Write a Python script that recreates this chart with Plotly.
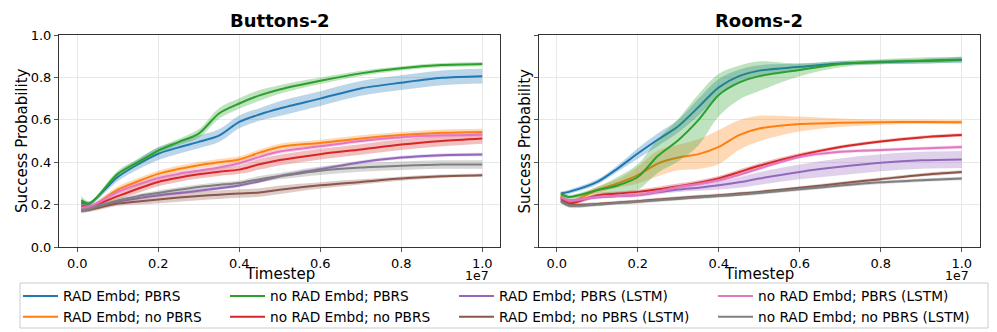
import plotly.graph_objects as go
from plotly.subplots import make_subplots

# timesteps (x 1e7)
steps = [0.01, 0.03, 0.1, 0.15, 0.2, 0.25, 0.3, 0.35, 0.4, 0.45, 0.5, 0.6, 0.7, 0.8, 0.9, 1.0]
steps = [s * 1e7 for s in steps]

names = ["RAD Embd; PBRS", "no RAD Embd; PBRS", "RAD Embd; PBRS (LSTM)", "no RAD Embd; PBRS (LSTM)",
         "RAD Embd; no PBRS", "no RAD Embd; no PBRS", "RAD Embd; no PBRS (LSTM)", "no RAD Embd; no PBRS (LSTM)"]
colors = ["#1f77b4", "#2ca02c", "#9467bd", "#e377c2", "#ff7f0e", "#d62728", "#8c564b", "#7f7f7f"]
fills = ["rgba(31,119,180,0.3)", "rgba(44,160,44,0.3)", "rgba(148,103,189,0.3)", "rgba(227,119,194,0.3)",
         "rgba(255,127,14,0.3)", "rgba(214,39,40,0.3)", "rgba(140,86,75,0.3)", "rgba(127,127,127,0.3)"]

# Buttons-2 means / spreads
btn_rad_pbrs = [0.21, 0.205, 0.33, 0.39, 0.44, 0.47, 0.496, 0.525, 0.59, 0.625, 0.653, 0.70, 0.748, 0.775, 0.798, 0.806]
btn_rad_pbrs_sd = [0.015, 0.01, 0.02, 0.025, 0.03, 0.03, 0.03, 0.03, 0.03, 0.03, 0.035, 0.035, 0.035, 0.035, 0.035, 0.035]
btn_norad_pbrs = [0.22, 0.205, 0.345, 0.40, 0.455, 0.495, 0.535, 0.63, 0.677, 0.715, 0.743, 0.784, 0.819, 0.843, 0.858, 0.863]
btn_norad_pbrs_sd = [0.02, 0.01, 0.015, 0.015, 0.015, 0.015, 0.02, 0.025, 0.025, 0.025, 0.02, 0.015, 0.012, 0.01, 0.01, 0.01]
btn_rad_pbrs_lstm = [0.18, 0.185, 0.215, 0.23, 0.244, 0.255, 0.265, 0.277, 0.29, 0.31, 0.334, 0.367, 0.40, 0.422, 0.433, 0.436]
btn_rad_pbrs_lstm_sd = [0.008] * 16
btn_norad_pbrs_lstm = [0.185, 0.19, 0.26, 0.295, 0.325, 0.345, 0.36, 0.375, 0.395, 0.425, 0.45, 0.475, 0.50, 0.518, 0.527, 0.53]
btn_norad_pbrs_lstm_sd = [0.01] * 16
btn_rad_nopbrs = [0.18, 0.185, 0.27, 0.31, 0.345, 0.368, 0.386, 0.40, 0.413, 0.445, 0.472, 0.491, 0.512, 0.528, 0.539, 0.543]
btn_rad_nopbrs_sd = [0.01, 0.01] + [0.015] * 14
btn_norad_nopbrs = [0.195, 0.19, 0.24, 0.275, 0.307, 0.327, 0.343, 0.355, 0.365, 0.39, 0.41, 0.438, 0.46, 0.483, 0.50, 0.512]
btn_norad_nopbrs_sd = [0.01, 0.01, 0.015, 0.02, 0.02, 0.02, 0.02, 0.02, 0.02, 0.025, 0.025, 0.025, 0.025, 0.025, 0.025, 0.025]
btn_rad_nopbrs_lstm = [0.17, 0.175, 0.205, 0.215, 0.224, 0.233, 0.241, 0.247, 0.252, 0.257, 0.27, 0.291, 0.307, 0.323, 0.334, 0.339]
btn_rad_nopbrs_lstm_sd = [0.01, 0.01, 0.012, 0.015, 0.018, 0.02, 0.02, 0.02, 0.02, 0.02, 0.02, 0.015, 0.012, 0.01, 0.008, 0.008]
btn_norad_nopbrs_lstm = [0.17, 0.18, 0.22, 0.24, 0.255, 0.27, 0.283, 0.293, 0.302, 0.32, 0.334, 0.36, 0.375, 0.383, 0.389, 0.389]
btn_norad_nopbrs_lstm_sd = [0.01, 0.01, 0.01, 0.01, 0.012, 0.012, 0.012, 0.012, 0.012, 0.015, 0.015, 0.02, 0.02, 0.02, 0.02, 0.02]

# Rooms-2 means / spreads
rm_rad_pbrs = [0.252, 0.26, 0.307, 0.37, 0.441, 0.507, 0.57, 0.66, 0.753, 0.806, 0.832, 0.85, 0.866, 0.872, 0.877, 0.882]
rm_rad_pbrs_sd = [0.01, 0.01, 0.012, 0.015, 0.025, 0.03, 0.03, 0.04, 0.04, 0.03, 0.025, 0.015, 0.01, 0.01, 0.01, 0.015]
rm_norad_pbrs = [0.25, 0.236, 0.268, 0.29, 0.33, 0.43, 0.504, 0.60, 0.717, 0.775, 0.806, 0.835, 0.863, 0.874, 0.879, 0.885]
rm_norad_pbrs_sd = [0.01, 0.01, 0.015, 0.04, 0.06, 0.08, 0.1, 0.12, 0.1, 0.08, 0.07, 0.03, 0.015, 0.012, 0.015, 0.012]
rm_rad_pbrs_lstm = [0.235, 0.22, 0.235, 0.24, 0.245, 0.258, 0.271, 0.28, 0.291, 0.305, 0.323, 0.354, 0.378, 0.397, 0.409, 0.413]
rm_rad_pbrs_lstm_sd = [0.008, 0.008, 0.008, 0.008, 0.008, 0.01, 0.012, 0.015, 0.02, 0.025, 0.03, 0.035, 0.04, 0.04, 0.04, 0.04]
rm_norad_pbrs_lstm = [0.235, 0.22, 0.236, 0.24, 0.245, 0.262, 0.283, 0.297, 0.315, 0.34, 0.37, 0.425, 0.449, 0.457, 0.465, 0.472]
rm_norad_pbrs_lstm_sd = [0.008] * 16
rm_rad_nopbrs = [0.24, 0.213, 0.27, 0.30, 0.339, 0.394, 0.422, 0.438, 0.472, 0.528, 0.559, 0.58, 0.586, 0.589, 0.59, 0.589]
rm_rad_nopbrs_sd = [0.01, 0.01, 0.015, 0.02, 0.04, 0.06, 0.06, 0.07, 0.08, 0.07, 0.06, 0.035, 0.02, 0.012, 0.01, 0.01]
rm_norad_nopbrs = [0.23, 0.205, 0.244, 0.252, 0.26, 0.272, 0.287, 0.303, 0.323, 0.353, 0.383, 0.433, 0.472, 0.498, 0.517, 0.528]
rm_norad_nopbrs_sd = [0.01] * 5 + [0.012] * 6 + [0.01, 0.008, 0.008, 0.008, 0.008]
rm_rad_nopbrs_lstm = [0.22, 0.2, 0.203, 0.21, 0.216, 0.224, 0.231, 0.238, 0.244, 0.252, 0.26, 0.279, 0.30, 0.32, 0.34, 0.354]
rm_rad_nopbrs_lstm_sd = [0.01, 0.01] + [0.008] * 14
rm_norad_nopbrs_lstm = [0.215, 0.195, 0.2, 0.207, 0.213, 0.22, 0.227, 0.234, 0.24, 0.247, 0.255, 0.272, 0.29, 0.305, 0.315, 0.323]
rm_norad_nopbrs_lstm_sd = [0.01, 0.01] + [0.008] * 14

buttons = [(btn_rad_pbrs, btn_rad_pbrs_sd), (btn_norad_pbrs, btn_norad_pbrs_sd),
           (btn_rad_pbrs_lstm, btn_rad_pbrs_lstm_sd), (btn_norad_pbrs_lstm, btn_norad_pbrs_lstm_sd),
           (btn_rad_nopbrs, btn_rad_nopbrs_sd), (btn_norad_nopbrs, btn_norad_nopbrs_sd),
           (btn_rad_nopbrs_lstm, btn_rad_nopbrs_lstm_sd), (btn_norad_nopbrs_lstm, btn_norad_nopbrs_lstm_sd)]
rooms = [(rm_rad_pbrs, rm_rad_pbrs_sd), (rm_norad_pbrs, rm_norad_pbrs_sd),
         (rm_rad_pbrs_lstm, rm_rad_pbrs_lstm_sd), (rm_norad_pbrs_lstm, rm_norad_pbrs_lstm_sd),
         (rm_rad_nopbrs, rm_rad_nopbrs_sd), (rm_norad_nopbrs, rm_norad_nopbrs_sd),
         (rm_rad_nopbrs_lstm, rm_rad_nopbrs_lstm_sd), (rm_norad_nopbrs_lstm, rm_norad_nopbrs_lstm_sd)]

FONT = "DejaVu Sans"
fig = make_subplots(rows=1, cols=2, horizontal_spacing=0.0413, shared_yaxes=False)

# draw order: same as matplotlib plotting order (legend column-major)
draw_order = [0, 4, 1, 5, 2, 6, 3, 7]
legend_ids = ["legend", "legend2", "legend3", "legend4"]

for col, panel in enumerate([buttons, rooms], start=1):
    for i in draw_order:
        mean, sd = panel[i]
        upper = [m + s for m, s in zip(mean, sd)]
        lower = [m - s for m, s in zip(mean, sd)]
        fig.add_trace(go.Scatter(x=steps, y=upper, mode="lines", line=dict(width=0, shape="spline"),
                                 showlegend=False, hoverinfo="skip"), row=1, col=col)
        fig.add_trace(go.Scatter(x=steps, y=lower, mode="lines", line=dict(width=0, shape="spline"),
                                 fill="tonexty", fillcolor=fills[i], showlegend=False, hoverinfo="skip"),
                      row=1, col=col)
        fig.add_trace(go.Scatter(x=steps, y=mean, mode="lines", name=names[i],
                                 line=dict(color=colors[i], width=2, shape="spline", smoothing=0.8),
                                 showlegend=(col == 1), legend=legend_ids[i % 4],
                                 legendrank=i + 1), row=1, col=col)

axis_style = dict(showline=True, mirror=True, linecolor="#333333", linewidth=1,
                  showgrid=True, gridcolor="#e8e8e8", gridwidth=1, zeroline=False,
                  ticks="outside", ticklen=4, tickcolor="#555555",
                  tickfont=dict(family=FONT, size=13, color="black"))

for c in (1, 2):
    fig.update_xaxes(axis_style, range=[-0.045e7, 1.045e7], tickvals=[0, 0.2e7, 0.4e7, 0.6e7, 0.8e7, 1.0e7],
                     ticktext=["0.0", "0.2", "0.4", "0.6", "0.8", "1.0"], row=1, col=c)
    fig.update_yaxes(axis_style, range=[0, 1], tickvals=[0, 0.2, 0.4, 0.6, 0.8, 1.0],
                     ticktext=["0.0", "0.2", "0.4", "0.6", "0.8", "1.0"], showticklabels=(c == 1),
                     row=1, col=c)

anns = []
for xr, yr, title in [("x domain", "y domain", "Buttons-2"), ("x2 domain", "y2 domain", "Rooms-2")]:
    anns.append(dict(xref=xr, yref=yr, x=0.5, y=1, yshift=2, text="<b>" + title + "</b>", showarrow=False,
                     yanchor="bottom", font=dict(family=FONT, size=18, color="black")))
    anns.append(dict(xref=xr, yref=yr, x=0.5, y=0, yshift=-27, text="Timestep", showarrow=False,
                     yanchor="middle", font=dict(family=FONT, size=15, color="black")))
    anns.append(dict(xref=xr, yref=yr, x=1, y=0, xshift=-9, yshift=-28, text="1e7", showarrow=False,
                     xanchor="right", yanchor="middle", font=dict(family=FONT, size=12.5, color="black")))
anns.append(dict(xref="x domain", yref="y domain", x=0, y=0.5, xshift=-37, text="Success Probability",
                 textangle=-90, showarrow=False, xanchor="center", font=dict(family=FONT, size=15, color="black")))
anns.append(dict(xref="x2 domain", yref="y2 domain", x=0, y=0.5, xshift=-14, text="Success Probability",
                 textangle=-90, showarrow=False, xanchor="center", font=dict(family=FONT, size=15, color="black")))

W_PLOT = 921.0
def px_x(px):
    return (px - 59) / W_PLOT

legend_cols = [18, 225, 454, 713]
leg_common = dict(orientation="v", yanchor="top", xanchor="left", y=(247 - 280.5) / 212.0,
                  bgcolor="rgba(0,0,0,0)", borderwidth=0, traceorder="normal",
                  font=dict(family=FONT, size=13.7, color="black"), tracegroupgap=0,
                  itemwidth=35)
layout_legends = {}
for k, lid in enumerate(legend_ids):
    layout_legends[lid] = dict(leg_common, x=px_x(legend_cols[k]))

fig.update_layout(
    width=997, height=332,
    margin=dict(l=59, r=17, t=35, b=85, autoexpand=False),
    plot_bgcolor="white", paper_bgcolor="white",
    font=dict(family=FONT),
    annotations=anns,
    shapes=[dict(type="rect", xref="paper", yref="paper", x0=px_x(20), x1=px_x(988),
                 y0=(247 - 328) / 212.0, y1=(247 - 283) / 212.0,
                 line=dict(color="#cccccc", width=1), fillcolor="rgba(0,0,0,0)")],
    **layout_legends,
)

fig.write_html("out.html", config={"displayModeBar": False},
               post_script="document.body.style.margin='0px';")
